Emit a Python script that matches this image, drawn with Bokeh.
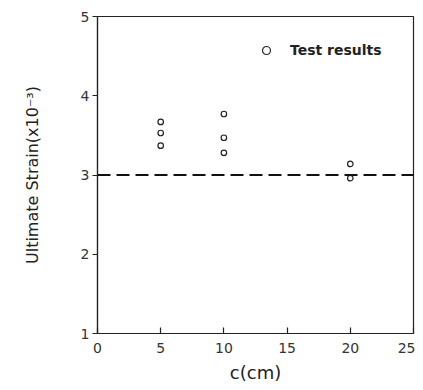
from bokeh.plotting import figure
from bokeh.models import Span, Range1d, FixedTicker, Legend, LegendItem
from bokeh.embed import file_html
from bokeh.resources import INLINE

# Data
c_cm = [5, 5, 5, 10, 10, 10, 20, 20]
ultimate_strain = [3.67, 3.53, 3.37, 3.77, 3.47, 3.28, 3.14, 2.96]
design_strain = 3.0
x_ticks = [0, 5, 10, 15, 20, 25]
y_ticks = [1, 2, 3, 4, 5]

FONT = "DejaVu Sans"

p = figure(width=415, height=388, output_backend="svg", toolbar_location=None,
           x_range=Range1d(0, 25), y_range=Range1d(1, 5),
           min_border_left=97, min_border_right=2, min_border_top=16, min_border_bottom=55)
p.grid.visible = False
p.outline_line_color = "#222222"
p.outline_line_width = 1.2
p.background_fill_color = "white"
p.border_fill_color = "white"

p.xaxis.ticker = FixedTicker(ticks=x_ticks)
p.yaxis.ticker = FixedTicker(ticks=y_ticks)
p.xaxis.minor_tick_line_color = None
p.yaxis.minor_tick_line_color = None
p.xaxis.major_tick_in = 6
p.xaxis.major_tick_out = 0
p.yaxis.major_tick_in = 0
p.yaxis.major_tick_out = 5
for ax in (p.xaxis[0], p.yaxis[0]):
    ax.axis_line_color = "#222222"
    ax.axis_line_width = 1.2
    ax.major_tick_line_color = "#222222"
    ax.major_tick_line_width = 1.2
    ax.major_label_text_font = FONT
    ax.major_label_text_font_size = "14px"
    ax.major_label_text_color = "#333333"
    ax.axis_label_text_font = FONT
    ax.axis_label_text_font_style = "normal"
    ax.axis_label_text_color = "#222222"

p.xaxis.axis_label = "c(cm)"
p.xaxis.axis_label_text_font_size = "18px"
p.xaxis.major_label_standoff = 9
p.xaxis.axis_label_standoff = 6
p.yaxis.axis_label = "Ultimate Strain(x10\u207b\u00b3)"
p.yaxis.axis_label_text_font_size = "16px"
p.yaxis.major_label_standoff = 3
p.yaxis.axis_label_standoff = 36

ref = Span(location=design_strain, dimension="width", line_color="#111111",
           line_width=2.2, line_dash="13 6")
p.add_layout(ref)

r = p.scatter(c_cm, ultimate_strain, marker="circle", size=5.5,
              fill_color="white", line_color="#222222", line_width=1.2)

legend = Legend(items=[LegendItem(label="Test results", renderers=[r])],
                location=(159, 273), padding=0, margin=0, spacing=0,
                glyph_width=20, glyph_height=20, label_standoff=14,
                border_line_color=None, background_fill_alpha=0,
                label_text_font=FONT, label_text_font_size="14px",
                label_text_font_style="bold", label_text_color="#222222")
p.add_layout(legend)

open("out.html", "w").write(file_html(p, INLINE))
